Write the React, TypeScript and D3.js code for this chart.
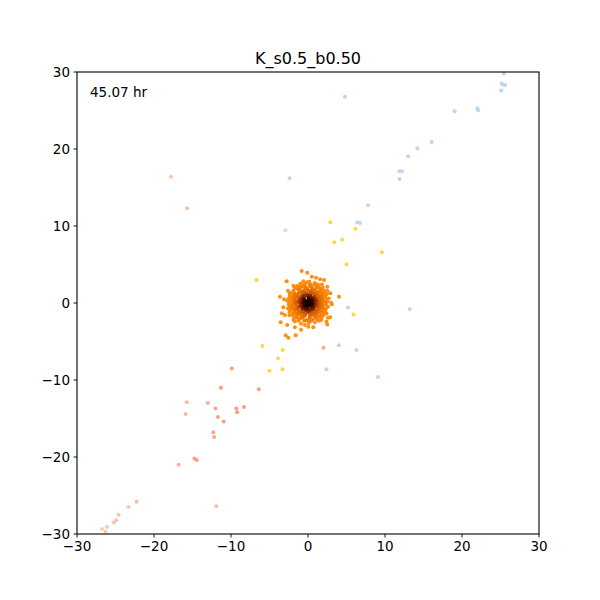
import React from "react";
import * as d3 from "d3";

const TITLE = "K_s0.5_b0.50";
const TIME_LABEL = "45.07 hr";
const xTicks = [-30, -20, -10, 0, 10, 20, 30];
const yTicks = [-30, -20, -10, 0, 10, 20, 30];

// light blue population (upper right stream)
const bluePts: [number, number][] = [
  [25.45, 29.8], [25.15, 28.5], [25.6, 28.3], [25.3, 28.35], [25.1, 27.6],
  [19.05, 24.9], [22.0, 25.3], [22.1, 25.0], [16.06, 20.9], [14.2, 20.1],
  [13.0, 19.05], [11.86, 17.1], [12.2, 17.1], [11.9, 16.1], [7.8, 12.7],
  [6.4, 10.5], [6.75, 10.4], [-2.4, 16.2], [4.8, 26.8], [13.2, -0.8],
  [5.2, -0.6], [4.0, -5.5], [6.3, -6.1], [2.4, -8.6], [9.1, -9.6], [-0.35, -1.65],
];

// yellow population
const yellowPts: [number, number][] = [
  [2.9, 10.5], [6.15, 9.65], [4.45, 8.2], [3.4, 7.9], [5.0, 5.0], [9.6, 6.6],
  [-6.7, 3.0], [5.9, -1.5], [-5.9, -5.6], [-3.3, -6.1], [-3.9, -7.2],
  [-5.0, -8.8], [-3.3, -8.6],
];

// salmon population (lower left stream): x, y, shade (0 light .. 1 dark)
const salmonPts: [number, number, number][] = [
  [-9.9, -8.5, 1], [-6.4, -11.2, 1], [-11.3, -11.0, 1], [-13.0, -13.0, 0.7],
  [-12.0, -13.7, 0.9], [-9.3, -13.7, 1], [-9.2, -14.2, 1], [-8.3, -13.5, 1],
  [-11.7, -14.8, 0.9], [-10.95, -15.4, 1], [-15.75, -12.9, 0.5], [-15.9, -14.4, 0.5],
  [-12.3, -16.8, 0.8], [-12.2, -17.4, 0.8], [-14.75, -20.2, 0.9], [-14.45, -20.4, 0.9],
  [-16.8, -21.0, 0.6], [-11.9, -26.4, 0.4], [-22.25, -25.8, 0.4], [-23.3, -26.5, 0.3],
  [-24.6, -27.5, 0.3], [-24.9, -28.2, 0.3], [-25.2, -28.5, 0.3], [-26.1, -29.1, 0.2],
  [-26.75, -29.35, 0.2], [-26.3, -29.7, 0.2], [-17.8, 16.4, 0.3], [-15.7, 12.3, 0.4],
  [-2.95, 9.45, 0.0], [2.0, -5.8, 0.8],
];

// central orange cluster: core and rings
const clusterCore: [number, number][] = [
  [0, 0], [0.2, 0.15], [-0.2, -0.15], [0.15, -0.25], [-0.18, 0.22], [0.35, 0.05],
  [-0.35, -0.08], [0.08, 0.38], [-0.06, -0.4], [0.32, 0.3], [-0.3, -0.32],
  [0.45, -0.2], [-0.45, 0.2], [0.55, 0.35], [-0.55, -0.3], [0.2, 0.6], [-0.25, -0.6],
  [0.65, -0.05], [-0.7, 0.05], [0.05, 0.7], [-0.05, -0.72],
  [0.9, 0.3], [-0.9, -0.3], [0.3, 0.9], [-0.3, -0.85], [0.7, -0.6], [-0.7, 0.6],
  [0.75, 0.75], [-0.75, -0.75], [0.5, 0.5], [-0.5, -0.55], [0.45, -0.5], [-0.5, 0.45],
  [0.95, -0.35], [-0.95, 0.35],
];

const clusterBody: [number, number][] = [
  [1.1, 0.3], [1.2, -0.4], [0.9, 1.0], [0.4, 1.3], [-0.3, 1.2], [-0.9, 0.8],
  [-1.2, 0.2], [-1.1, -0.5], [-0.8, -1.1], [-0.2, -1.3], [0.5, -1.2], [1.0, -0.9],
  [0.8, 0.6], [-0.7, -0.7], [0.6, -0.8], [-0.6, 0.9], [1.0, 0.0], [0.0, 1.0],
  [-1.0, 0.0], [0.0, -1.0],
  [1.5, 0.8], [1.6, -0.1], [1.3, 1.4], [0.7, 1.7], [-0.1, 1.8], [-0.8, 1.5],
  [-1.5, 1.0], [-1.7, 0.1], [-1.6, -0.8], [-1.3, -1.4], [-0.6, -1.8], [0.2, -1.8],
  [0.9, -1.6], [1.5, -1.1], [1.8, 0.4], [1.9, 1.3], [1.1, 2.0], [0.2, 2.2],
  [-0.6, 2.1], [-1.3, 1.8], [-2.0, 0.7], [-2.1, -0.4], [-1.9, -1.3], [-1.1, -2.0],
  [-0.2, -2.2], [0.6, -2.1], [1.4, -1.8], [2.0, -0.7], [2.2, 0.2], [2.3, 1.0],
  [1.7, 1.8], [-1.8, -1.9], [-2.3, -0.9], [2.1, -1.3], [-1.6, 1.9], [0.9, 2.4],
  [2.5, 1.6], [1.8, 2.4], [0.9, 2.6], [-0.1, 2.7], [-1.0, 2.5], [-1.8, 2.1],
  [-2.4, 1.3], [-2.7, 0.3], [-2.6, -0.7], [-2.4, -1.6], [-1.7, -2.4], [-0.9, -2.7],
  [0.1, -2.6], [0.9, -2.5], [1.7, -2.2], [2.3, -1.4], [2.6, -0.5], [2.7, 0.6],
  [-0.9, 2.4], [-0.4, 2.4], [0.3, 2.4], [0.8, 2.4], [1.3, 2.4],
  [-1.4, 2.0], [-1.0, 2.0], [-0.3, 2.0], [0.5, 2.0], [1.4, 2.0], [1.9, 2.0],
  [-1.9, 1.6], [-1.1, 1.6], [-0.5, 1.6], [0.1, 1.6], [0.4, 1.6], [1.0, 1.6], [1.6, 1.6], [2.1, 1.6],
  [-2.2, 1.25], [-1.7, 1.25], [-1.2, 1.25], [-0.7, 1.25], [-0.2, 1.25], [0.3, 1.25],
  [0.75, 1.25], [1.2, 1.25], [1.7, 1.25], [2.05, 1.25], [2.5, 1.25],
  [-2.4, 0.9], [-1.9, 0.9], [-1.4, 0.9], [-0.4, 0.9], [0.3, 0.9], [1.3, 0.9], [1.75, 0.9], [2.2, 0.9],
  [-2.5, 0.55], [-2.0, 0.55], [-1.6, 0.55], [-1.1, 0.55], [-0.6, 0.55], [0.5, 0.55],
  [1.1, 0.55], [1.5, 0.55], [1.9, 0.55], [2.4, 0.55],
  [-2.3, 0.2], [-1.8, 0.2], [-1.4, 0.2], [1.4, 0.2], [1.85, 0.2], [2.5, 0.2],
  [-2.5, -0.15], [-2.0, -0.15], [-1.5, -0.15], [1.3, -0.15], [1.8, -0.15], [2.3, -0.15],
  [-2.4, -0.5], [-1.9, -0.5], [-1.4, -0.5], [-0.6, -0.5], [0.6, -0.5], [1.45, -0.5], [1.9, -0.5], [2.5, -0.5],
  [-2.2, -0.85], [-1.8, -0.85], [-1.3, -0.85], [-0.3, -0.85], [0.3, -0.85], [1.3, -0.85], [1.7, -0.85], [2.3, -0.85],
  [-2.4, -1.2], [-1.7, -1.2], [-1.2, -1.2], [-0.6, -1.2], [0.1, -1.2], [0.9, -1.2], [1.2, -1.2], [1.9, -1.2], [2.2, -1.2],
  [-2.0, -1.55], [-1.5, -1.55], [-0.9, -1.55], [-0.4, -1.55], [0.3, -1.55], [0.7, -1.55], [1.1, -1.55], [1.6, -1.55], [2.0, -1.55],
  [-1.4, -1.9], [-0.8, -1.9], [0.2, -1.9], [1.0, -1.9], [1.8, -1.9],
  [-1.2, -2.3], [-0.5, -2.3], [0.0, -2.3], [0.4, -2.3], [1.5, -2.3],
];

// scattered edge of the cluster
const clusterEdge: [number, number][] = [
  [-0.82, 4.16], [-0.09, 3.94], [0.48, 3.42], [-2.77, 2.82], [1.04, 3.29],
  [1.56, 3.08], [2.08, 2.99], [-0.6, 2.82], [0.17, 2.77], [-1.9, 2.25],
  [-1.39, 2.2], [-3.64, 0.82], [-3.1, 0.48], [-2.6, 1.6], [2.5, 2.1], [2.4, 1.5],
  [2.9, 1.26], [3.0, 0.04], [3.1, -0.17], [4.03, 0.82], [-3.2, -0.56],
  [-3.4, -1.34], [-3.0, -1.56], [-3.55, -2.5], [-2.7, -2.86], [-1.9, -2.2],
  [2.4, -1.34], [2.6, -1.9], [2.86, -1.86], [1.26, -2.2], [2.4, -2.4], [2.5, -2.8],
  [-1.7, -3.16], [-0.9, -3.46], [0.04, -3.08], [0.69, -3.16], [-2.9, -4.2],
  [-2.55, -4.5], [-1.6, -4.2], [-0.4, -2.86],
];

const W = 600;
const H = 600;
const left = 77;
const right = 539;
const top = 72;
const bottom = 534;

export default function App() {
  const x = d3.scaleLinear().domain([-30, 30]).range([left, right]);
  const y = d3.scaleLinear().domain([-30, 30]).range([bottom, top]);
  const fmt = d3.format("d");
  const clusterColor = d3
    .scaleLinear<string>()
    .domain([0, 0.5, 0.9, 1.3, 1.9, 2.7])
    .range(["#0c0000", "#2e0200", "#7a2000", "#cc5800", "#ef7800", "#ff8e12"])
    .clamp(true);
  const salmonColor = d3
    .scaleLinear<string>()
    .domain([0, 1])
    .range(["#fdd2be", "#fc9d80"]);

  const allCluster = [...clusterEdge, ...clusterBody, ...clusterCore];
  const sortedCluster = allCluster
    .map((p) => ({ p, d: Math.hypot(p[0], p[1]) }))
    .sort((a, b) => b.d - a.d);

  const font = "DejaVu Sans, sans-serif";
  const r = 2;

  return (
    <svg
      width={W}
      height={H}
      style={{ position: "fixed", left: 0, top: 0, background: "#fff" }}
      fontFamily={font}
    >
      <rect x={0} y={0} width={W} height={H} fill="#fff" />
      <clipPath id="plotclip">
        <rect x={left} y={top} width={right - left} height={bottom - top} />
      </clipPath>
      <g clipPath="url(#plotclip)">
        {salmonPts.map((p, i) => (
          <circle key={"s" + i} cx={x(p[0])} cy={y(p[1])} r={r} fill={salmonColor(p[2])} />
        ))}
        {bluePts.map((p, i) => (
          <circle key={"b" + i} cx={x(p[0])} cy={y(p[1])} r={r} fill="#bcd6ef" />
        ))}
        {yellowPts.map((p, i) => (
          <circle key={"y" + i} cx={x(p[0])} cy={y(p[1])} r={r} fill="#ffd54a" />
        ))}
        {sortedCluster.map((o, i) => (
          <circle key={"c" + i} cx={x(o.p[0])} cy={y(o.p[1])} r={r} fill={clusterColor(o.d)} />
        ))}
      </g>
      <rect
        x={left}
        y={top}
        width={right - left}
        height={bottom - top}
        fill="none"
        stroke="#000"
        strokeWidth={1.1}
      />
      {xTicks.map((t) => (
        <g key={"xt" + t}>
          <line x1={x(t)} x2={x(t)} y1={bottom} y2={bottom + 3.5} stroke="#000" strokeWidth={0.9} />
          <text x={x(t)} y={bottom + 17} textAnchor="middle" fontSize={13.5} fill="#000">
            {fmt(t)}
          </text>
        </g>
      ))}
      {yTicks.map((t) => (
        <g key={"yt" + t}>
          <line x1={left - 3.5} x2={left} y1={y(t)} y2={y(t)} stroke="#000" strokeWidth={0.9} />
          <text x={left - 7} y={y(t) + 5} textAnchor="end" fontSize={13.5} fill="#000">
            {fmt(t)}
          </text>
        </g>
      ))}
      <text x={(left + right) / 2} y={64} textAnchor="middle" fontSize={16} fill="#000">
        {TITLE}
      </text>
      <text x={90} y={97} fontSize={13.5} fill="#000">
        {TIME_LABEL}
      </text>
    </svg>
  );
}
